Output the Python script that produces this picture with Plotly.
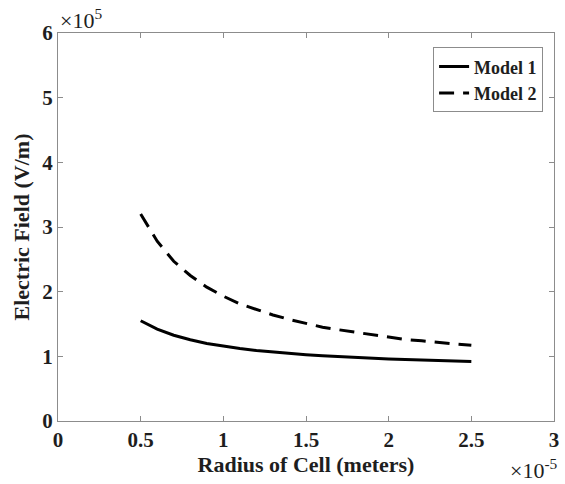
import plotly.graph_objects as go

# Radius of cell (units of 1e-5 m)
radius = [0.5, 0.6, 0.7, 0.8, 0.9, 1.0, 1.1, 1.2, 1.3, 1.4, 1.5,
          1.6, 1.7, 1.8, 1.9, 2.0, 2.1, 2.2, 2.3, 2.4, 2.5]
# Electric field (units of 1e5 V/m)
model1 = [1.55, 1.42, 1.326, 1.256, 1.20, 1.157, 1.121, 1.091, 1.066, 1.044, 1.026,
          1.009, 0.995, 0.982, 0.970, 0.960, 0.951, 0.942, 0.934, 0.927, 0.92]
model2 = [3.20, 2.78, 2.47, 2.25, 2.07, 1.93, 1.81, 1.72, 1.64, 1.57, 1.51,
          1.45, 1.41, 1.37, 1.33, 1.30, 1.26, 1.24, 1.21, 1.19, 1.17]

x_ticks = [0, 0.5, 1, 1.5, 2, 2.5, 3]
x_ticklabels = ["0", "0.5", "1", "1.5", "2", "2.5", "3"]
y_ticks = [0, 1, 2, 3, 4, 5, 6]
y_ticklabels = ["0", "1", "2", "3", "4", "5", "6"]

FONT = "Liberation Serif"
AXC = "#8c8c8c"
TXT = "#1e1e1e"

fig = go.Figure()
fig.add_trace(go.Scatter(x=radius, y=model1, mode="lines", name="<b>Model 1</b>",
                         line=dict(color="black", width=3)))
fig.add_trace(go.Scatter(x=radius, y=model2, mode="lines", name="<b>Model 2</b>",
                         line=dict(color="black", width=3, dash="15px,9px")))

axis_common = dict(showgrid=False, zeroline=False, showline=True, linecolor=AXC, linewidth=1,
                   mirror="ticks", ticks="inside", ticklen=5, tickcolor=AXC,
                   tickfont=dict(family=FONT, size=21, color=TXT))

fig.update_xaxes(range=[0, 3], tickvals=x_ticks, ticktext=["<b>%s</b>" % t for t in x_ticklabels],
                 title=dict(text="<b>Radius of Cell (meters)</b>", font=dict(family=FONT, size=22, color=TXT),
                            standoff=3),
                 **axis_common)
fig.update_yaxes(range=[0, 6], tickvals=y_ticks, ticktext=["<b>%s</b>" % t for t in y_ticklabels],
                 title=dict(text="<b>Electric Field (V/m)</b>", font=dict(family=FONT, size=22, color=TXT),
                            standoff=6),
                 **axis_common)

fig.update_layout(
    width=565, height=484,
    margin=dict(l=58, r=6, t=33, b=63),
    plot_bgcolor="white", paper_bgcolor="white",
    font=dict(family=FONT, color=TXT),
    showlegend=True,
    legend=dict(x=0.978, y=0.963, xanchor="right", yanchor="top",
                bordercolor=AXC, borderwidth=1, bgcolor="white",
                font=dict(family=FONT, size=18, color=TXT),
                tracegroupgap=0, itemwidth=30),
    annotations=[
        dict(text="×10<sup>5</sup>", xref="paper", yref="paper", x=0.0, y=1.0,
             xanchor="left", yanchor="bottom", showarrow=False, yshift=-2,
             font=dict(family=FONT, size=22, color=TXT)),
        dict(text="×10<sup>-5</sup>", xref="paper", yref="paper", x=1.0, y=0.0,
             xanchor="right", yanchor="top", showarrow=False, yshift=-32, xshift=6,
             font=dict(family=FONT, size=22, color=TXT)),
    ],
)

fig.write_html("out.html")
